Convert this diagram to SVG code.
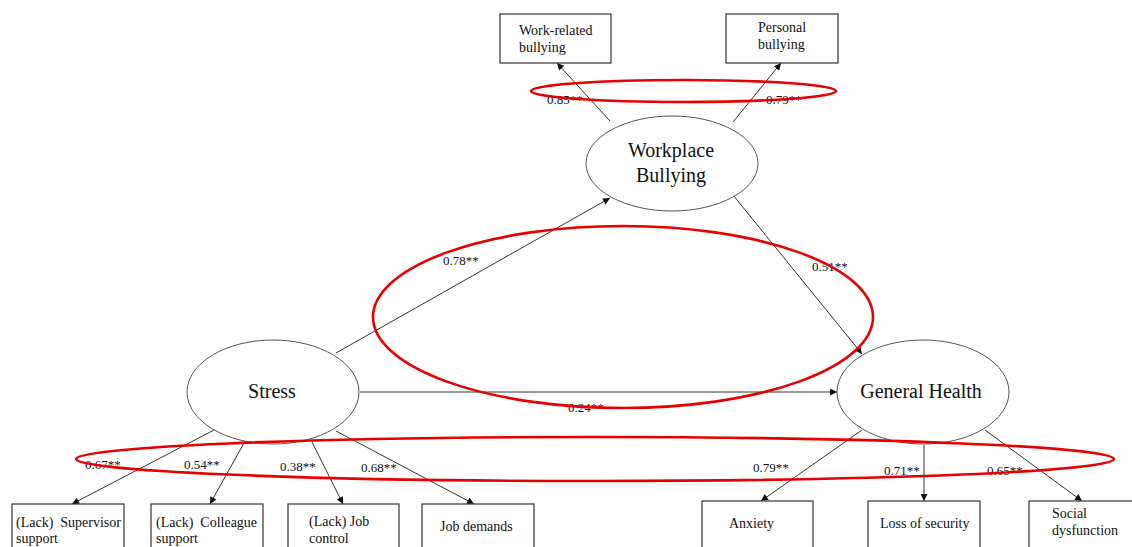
<svg xmlns="http://www.w3.org/2000/svg" width="1132" height="547" viewBox="0 0 1132 547">
<style>
text{font-family:"Liberation Serif","Times New Roman",serif;fill:#111}
.lat{fill:#fff;stroke:#555;stroke-width:1}
.box{fill:#fff;stroke:#333;stroke-width:1.2}
.lt{font-size:20px;text-anchor:middle}
.bt{font-size:14px}
.lb{font-size:13px}
.edge{stroke:#333;stroke-width:1;fill:none;marker-end:url(#ah)}
.red{fill:none;stroke:#e80000;stroke-width:2.6}
</style>
<defs>
<marker id="ah" viewBox="0 0 10 10" refX="10" refY="5" markerWidth="8" markerHeight="7" markerUnits="userSpaceOnUse" orient="auto">
<path d="M0,0 L10,5 L0,10 z" fill="#111"/>
</marker>
</defs>
<rect width="1132" height="547" fill="#fff"/>
<g id="connectors">
<line class="edge" x1="336" y1="353" x2="610" y2="198"/>
<line class="edge" x1="733" y1="195" x2="862" y2="354"/>
<line class="edge" x1="360" y1="392" x2="837" y2="392"/>
<line class="edge" x1="610" y1="121" x2="557" y2="63"/>
<line class="edge" x1="733" y1="122" x2="781" y2="63"/>
<line class="edge" x1="214" y1="430" x2="72" y2="504"/>
<line class="edge" x1="244" y1="443" x2="210" y2="504"/>
<line class="edge" x1="312" y1="442" x2="343" y2="504"/>
<line class="edge" x1="336" y1="431" x2="474" y2="504"/>
<line class="edge" x1="862" y1="430" x2="761" y2="501"/>
<line class="edge" x1="924" y1="445" x2="924" y2="501"/>
<line class="edge" x1="985" y1="430" x2="1082" y2="501"/>
<text class="lb" x="443" y="265">0.78**</text>
<text class="lb" x="812" y="271">0.51**</text>
<text class="lb" x="568" y="412">0.24**</text>
<text class="lb" x="547" y="104">0.85**</text>
<text class="lb" x="766" y="104">0.79**</text>
<text class="lb" x="85" y="469">0.67**</text>
<text class="lb" x="184" y="469">0.54**</text>
<text class="lb" x="280" y="471">0.38**</text>
<text class="lb" x="361" y="472">0.68**</text>
<text class="lb" x="753" y="472">0.79**</text>
<text class="lb" x="884" y="475">0.71**</text>
<text class="lb" x="987" y="475">0.65**</text>
</g>
<g id="workplace-bullying">
<ellipse class="lat" cx="672" cy="163.5" rx="86" ry="47.5"/>
<text class="lt" x="671" y="157">Workplace</text>
<text class="lt" x="671" y="182">Bullying</text>
</g>
<g id="stress">
<ellipse class="lat" cx="273" cy="392" rx="86" ry="52"/>
<text class="lt" x="272" y="398">Stress</text>
</g>
<g id="general-health">
<ellipse class="lat" cx="923" cy="392" rx="86" ry="52"/>
<text class="lt" x="921" y="398">General Health</text>
</g>
<g id="work-related-bullying">
<rect class="box" x="500" y="14" width="111" height="49"/>
<text class="bt" x="519" y="35">Work-related</text>
<text class="bt" x="519" y="52">bullying</text>
</g>
<g id="personal-bullying">
<rect class="box" x="726" y="14" width="112" height="49"/>
<text class="bt" x="758" y="32">Personal</text>
<text class="bt" x="758" y="49">bullying</text>
</g>
<g id="supervisor-support">
<rect class="box" x="12" y="504" width="112" height="50"/>
<text class="bt" x="16" y="527" xml:space="preserve">(Lack)  Supervisor</text>
<text class="bt" x="16" y="543">support</text>
</g>
<g id="colleague-support">
<rect class="box" x="151" y="504" width="112" height="50"/>
<text class="bt" x="156" y="527" xml:space="preserve">(Lack)  Colleague</text>
<text class="bt" x="156" y="543">support</text>
</g>
<g id="job-control">
<rect class="box" x="288" y="504" width="111" height="50"/>
<text class="bt" x="309" y="526">(Lack) Job</text>
<text class="bt" x="309" y="543">control</text>
</g>
<g id="job-demands">
<rect class="box" x="422" y="504" width="112" height="50"/>
<text class="bt" x="440" y="531">Job demands</text>
</g>
<g id="anxiety">
<rect class="box" x="702" y="501" width="111" height="53"/>
<text class="bt" x="729" y="528">Anxiety</text>
</g>
<g id="loss-of-security">
<rect class="box" x="868" y="501" width="112" height="53"/>
<text class="bt" x="880" y="528">Loss of security</text>
</g>
<g id="social-dysfunction">
<rect class="box" x="1029" y="501" width="112" height="53"/>
<text class="bt" x="1052" y="518">Social</text>
<text class="bt" x="1052" y="535">dysfunction</text>
</g>
<g id="highlights">
<ellipse class="red" cx="683.5" cy="91" rx="152.5" ry="11"/>
<ellipse class="red" cx="623" cy="317" rx="250" ry="91"/>
<ellipse class="red" cx="595" cy="459" rx="519" ry="22"/>
</g>
</svg>
